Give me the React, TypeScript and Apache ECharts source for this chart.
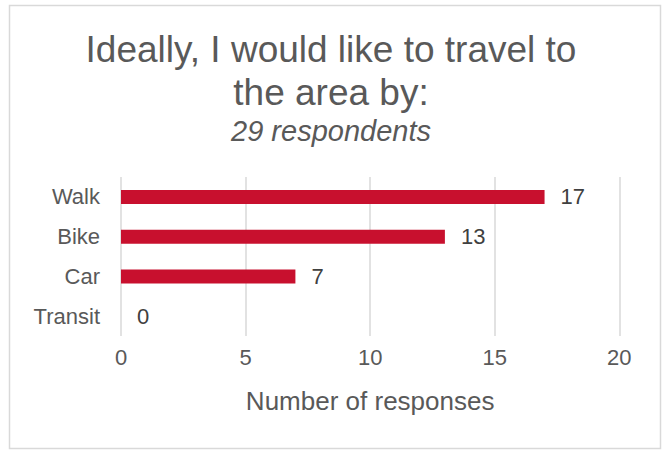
import React, { useEffect, useRef } from "react";
import * as echarts from "echarts";

const categories = ["Walk", "Bike", "Car", "Transit"];
const responses = [17, 13, 7, 0];
const titleLines = ["Ideally, I would like to travel to", "the area by:"];
const subtitle = "29 respondents";
const axisName = "Number of responses";

const FONT = "'Liberation Sans', Arial, sans-serif";

export default function App() {
  const ref = useRef<HTMLDivElement>(null);
  useEffect(() => {
    document.body.style.margin = "0";
    const chart = echarts.init(ref.current!, null, { renderer: "svg" });
    chart.setOption({
      animation: false,
      backgroundColor: "#ffffff",
      title: [
        {
          text: titleLines.join("\n"),
          left: "center",
          top: 28,
          padding: 0,
          textStyle: {
            fontFamily: FONT,
            fontSize: 37,
            fontWeight: "normal",
            color: "#595959",
            lineHeight: 43,
          },
        },
        {
          text: subtitle,
          left: "center",
          top: 116,
          padding: 0,
          textStyle: {
            fontFamily: FONT,
            fontSize: 29,
            fontStyle: "italic",
            fontWeight: "normal",
            color: "#595959",
            lineHeight: 30,
          },
        },
      ],
      graphic: [
        {
          type: "rect",
          shape: { x: 9.5, y: 5.5, width: 651, height: 443 },
          style: { fill: "none", stroke: "#d9d9d9", lineWidth: 1.5 },
          silent: true,
        },
      ],
      grid: { left: 121, right: 42.7, top: 177, bottom: 115, containLabel: false },
      xAxis: {
        type: "value",
        min: 0,
        max: 20,
        interval: 5,
        axisLine: { show: false },
        axisTick: { show: false },
        splitLine: { show: true, lineStyle: { color: "#d9d9d9", width: 1.5 } },
        axisLabel: { fontFamily: FONT, fontSize: 22, color: "#595959", margin: 10 },
        name: axisName,
        nameLocation: "middle",
        nameGap: 52,
        nameTextStyle: { fontFamily: FONT, fontSize: 26, color: "#595959" },
      },
      yAxis: {
        type: "category",
        data: categories,
        inverse: true,
        axisLine: { show: false },
        axisTick: { show: false },
        splitLine: { show: false },
        axisLabel: { fontFamily: FONT, fontSize: 22, color: "#595959", margin: 21 },
      },
      series: [
        {
          type: "bar",
          data: responses,
          barWidth: 14,
          itemStyle: { color: "#C8102E" },
          label: {
            show: true,
            position: "right",
            distance: 16,
            fontFamily: FONT,
            fontSize: 22,
            color: "#404040",
          },
        },
      ],
    });
    return () => chart.dispose();
  }, []);
  return (
    <div
      ref={ref}
      style={{ position: "absolute", left: 0, top: 0, width: 662, height: 451 }}
    />
  );
}
